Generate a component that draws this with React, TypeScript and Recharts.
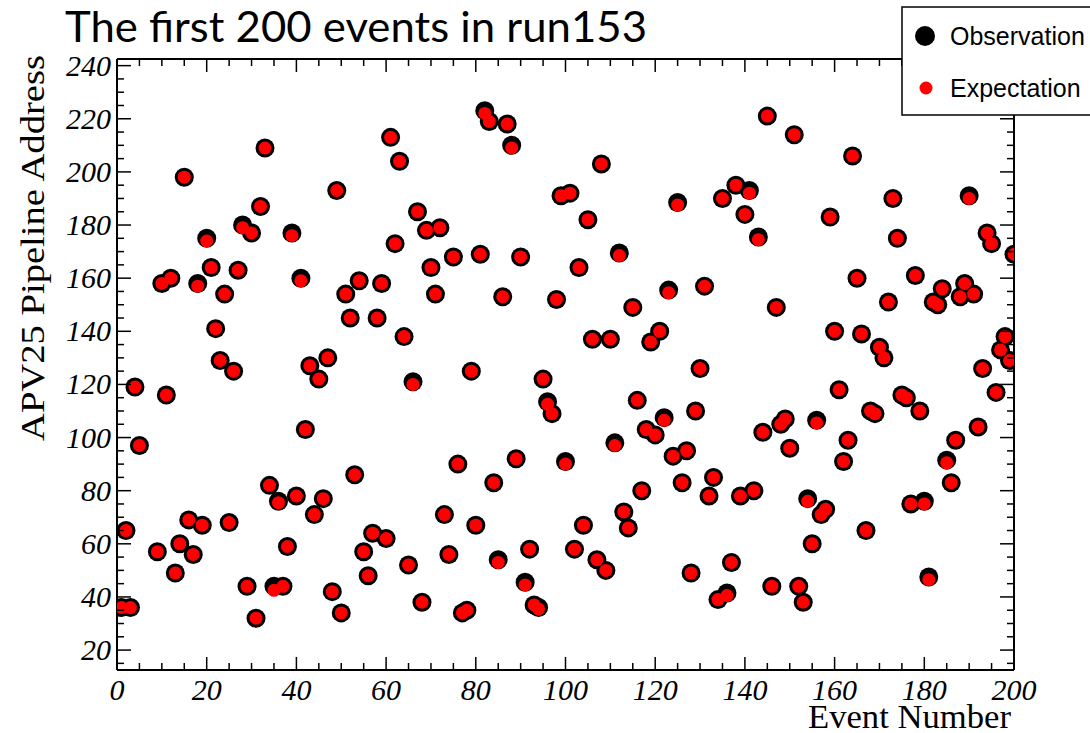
import { Scatter, ScatterChart, XAxis, YAxis } from "recharts";

// APV25 pipeline address per event, index 0 = event 1 (events 6-8 are absent)
const observed: (number | null)[] = [
  36, 65, 36, 119, 97, null, null, null, 57, 158,
  116, 160, 49, 60, 198, 69, 56, 158, 67, 175,
  164, 141, 129, 154, 68, 125, 163, 180, 44, 177,
  32, 187, 209, 82, 44, 76, 44, 59, 177, 78,
  160, 103, 127, 71, 122, 77, 130, 42, 193, 34,
  154, 145, 86, 159, 57, 48, 64, 145, 158, 62,
  213, 173, 204, 138, 52, 121, 185, 38, 178, 164,
  154, 179, 71, 56, 168, 90, 34, 35, 125, 67,
  169, 223, 219, 83, 54, 153, 218, 210, 92, 168,
  45.5, 58, 37, 36, 122, 113.5, 109, 152, 191, 91,
  192, 58, 164, 67, 182, 137, 54, 203, 50, 137,
  98, 169.5, 72, 66, 149, 114, 80, 103, 136, 101,
  140, 107.5, 155.5, 93, 188.5, 83, 95, 49, 110, 126,
  157, 78, 85, 39, 190, 41.5, 53, 195, 78, 184,
  193, 80, 175.5, 102, 221, 44, 149, 105, 107, 96,
  214, 44, 38, 77, 60, 106.5, 71, 73, 183, 140,
  118, 91, 99, 206, 160, 139, 65, 110, 109, 134,
  130, 151, 190, 175, 116, 115, 75, 161, 110, 76,
  47.5, 151, 150, 156, 91.5, 83, 99, 153, 158, 191,
  154, 104, 126, 177, 173, 117, 133, 138, 129, 169,
];

const expected: (number | null)[] = [
  36, 65, 36, 119, 97, null, null, null, 57, 158,
  116, 160, 49, 60, 198, 69, 56, 157, 67, 174,
  164, 141, 129, 154, 68, 125, 163, 179, 44, 177,
  32, 187, 209, 82, 42.5, 75.5, 44, 59, 176, 78,
  159, 103, 127, 71, 122, 77, 130, 42, 193, 34,
  154, 145, 86, 159, 57, 48, 64, 145, 158, 62,
  213, 173, 204, 138, 52, 120, 185, 38, 178, 164,
  154, 179, 71, 56, 168, 90, 34, 35, 125, 67,
  169, 222, 219, 83, 53, 153, 218, 209, 92, 168,
  44.5, 58, 37, 35.5, 122, 112.5, 109, 152, 191, 90,
  192, 58, 164, 67, 182, 137, 54, 203, 50, 137,
  97, 168.5, 72, 66, 149, 114, 80, 103, 136, 101,
  140, 106.5, 154.5, 93, 187.5, 83, 95, 49, 110, 126,
  157, 78, 85, 39, 190, 40.5, 53, 195, 78, 184,
  192, 80, 174.5, 102, 221, 44, 149, 105, 107, 96,
  214, 44, 38, 76, 60, 105.5, 71, 73, 183, 140,
  118, 91, 99, 206, 160, 139, 65, 110, 109, 134,
  130, 151, 190, 175, 116, 115, 75, 161, 110, 75,
  46.5, 151, 150, 156, 90.5, 83, 99, 153, 158, 190,
  154, 104, 126, 177, 173, 117, 133, 138, 129, 169,
];

const xTicks = [
  0, 5, 10, 15, 20, 25, 30, 35, 40, 45, 50, 55, 60, 65, 70, 75, 80, 85, 90, 95, 100,
  105, 110, 115, 120, 125, 130, 135, 140, 145, 150, 155, 160, 165, 170, 175, 180, 185, 190, 195, 200,
];
const yTicks = [
  15, 20, 25, 30, 35, 40, 45, 50, 55, 60, 65, 70, 75, 80, 85, 90, 95, 100, 105, 110, 115, 120,
  125, 130, 135, 140, 145, 150, 155, 160, 165, 170, 175, 180, 185, 190, 195, 200, 205, 210, 215,
  220, 225, 230, 235, 240,
];

const obsData = observed
  .map((v, i) => ({ event: i + 1, address: v }))
  .filter((d) => d.address !== null);
const expData = expected
  .map((v, i) => ({ event: i + 1, address: v }))
  .filter((d) => d.address !== null);

const serif = "'Liberation Serif', 'Times New Roman', serif";
const labelFont = { fontFamily: serif, fontStyle: "italic", fontSize: 30 };

const BottomTick = ({ x, y, payload }: any) => {
  const major = payload.value % 20 === 0;
  return (
    <g>
      <line x1={x} x2={x} y1={y} y2={y - (major ? 13 : 7)} stroke="#000" strokeWidth={1.5} />
      {major && (
        <text x={x} y={y + 30} textAnchor="middle" fill="#000" style={labelFont}>
          {payload.value}
        </text>
      )}
    </g>
  );
};

const TopTick = ({ x, y, payload }: any) => {
  const major = payload.value % 20 === 0;
  return <line x1={x} x2={x} y1={y} y2={y + (major ? 13 : 7)} stroke="#000" strokeWidth={1.5} />;
};

const LeftTick = ({ x, y, payload }: any) => {
  const major = payload.value % 20 === 0;
  return (
    <g>
      <line x1={x} x2={x + (major ? 14 : 7)} y1={y} y2={y} stroke="#000" strokeWidth={1.5} />
      {major && (
        <text x={x - 6} y={y + 10} textAnchor="end" fill="#000" style={labelFont}>
          {payload.value}
        </text>
      )}
    </g>
  );
};

const RightTick = ({ x, y, payload }: any) => {
  const major = payload.value % 20 === 0;
  return <line x1={x} x2={x - (major ? 14 : 7)} y1={y} y2={y} stroke="#000" strokeWidth={1.5} />;
};

const ObsDot = ({ cx, cy }: any) => <circle cx={cx} cy={cy} r={9.5} fill="#000" />;
const ExpDot = ({ cx, cy }: any) => <circle cx={cx} cy={cy} r={6.5} fill="#ff0000" />;

const axisLine = { stroke: "#000", strokeWidth: 2 };

export default function App() {
  return (
    <div style={{ position: "absolute", left: 0, top: 0, width: 1090, height: 733, background: "#fff" }}>
      <ScatterChart width={1090} height={733} margin={{ top: 58, right: 75, bottom: 0, left: 0 }}>
        <XAxis
          xAxisId="bottom"
          type="number"
          dataKey="event"
          domain={[0, 200]}
          ticks={xTicks}
          interval={0}
          height={63}
          tickSize={0}
          tickMargin={0}
          axisLine={axisLine}
          tickLine={false}
          tick={<BottomTick />}
          allowDataOverflow
        />
        <XAxis
          xAxisId="top"
          orientation="top"
          type="number"
          dataKey="event"
          domain={[0, 200]}
          ticks={xTicks}
          interval={0}
          height={1}
          tickSize={0}
          tickMargin={0}
          axisLine={axisLine}
          tickLine={false}
          tick={<TopTick />}
          allowDataOverflow
        />
        <YAxis
          yAxisId="left"
          type="number"
          dataKey="address"
          domain={[12.5, 242.5]}
          ticks={yTicks}
          interval={0}
          width={117}
          tickSize={0}
          tickMargin={0}
          axisLine={axisLine}
          tickLine={false}
          tick={<LeftTick />}
          allowDataOverflow
        />
        <YAxis
          yAxisId="right"
          orientation="right"
          type="number"
          dataKey="address"
          domain={[12.5, 242.5]}
          ticks={yTicks}
          interval={0}
          width={1}
          tickSize={0}
          tickMargin={0}
          axisLine={axisLine}
          tickLine={false}
          tick={<RightTick />}
          allowDataOverflow
        />
        <Scatter
          name="Observation"
          data={obsData}
          xAxisId="bottom"
          yAxisId="left"
          shape={<ObsDot />}
          isAnimationActive={false}
        />
        <Scatter
          name="Expectation"
          data={expData}
          xAxisId="bottom"
          yAxisId="left"
          shape={<ExpDot />}
          isAnimationActive={false}
        />
      </ScatterChart>

      <svg
        width={1090}
        height={733}
        style={{ position: "absolute", left: 0, top: 0, pointerEvents: "none" }}
      >
        <text x={65} y={42} fontFamily="Lato, 'Open Sans', sans-serif" fontSize={42} fill="#000" textLength={582} lengthAdjust="spacingAndGlyphs">
          The first 200 events in run153
        </text>
        <text
          x={44}
          y={55}
          transform="rotate(-90 44 55)"
          textAnchor="end"
          fontFamily={serif}
          fontSize={34}
          fill="#000"
          textLength={386}
          lengthAdjust="spacingAndGlyphs"
        >
          APV25 Pipeline Address
        </text>
        <text
          x={1011}
          y={728}
          textAnchor="end"
          fontFamily={serif}
          fontSize={33}
          fill="#000"
          textLength={203}
          lengthAdjust="spacingAndGlyphs"
        >
          Event Number
        </text>
        <rect x={902} y={7} width={200} height={108} fill="#fff" stroke="#000" strokeWidth={1.5} />
        <circle cx={925} cy={36} r={10} fill="#000" />
        <text x={950} y={45} fontFamily="'Liberation Sans', Arial, sans-serif" fontSize={25} fill="#000">
          Observation
        </text>
        <circle cx={926} cy={88} r={6.5} fill="#ff0000" />
        <text x={950} y={97} fontFamily="'Liberation Sans', Arial, sans-serif" fontSize={25} fill="#000">
          Expectation
        </text>
      </svg>
    </div>
  );
}
